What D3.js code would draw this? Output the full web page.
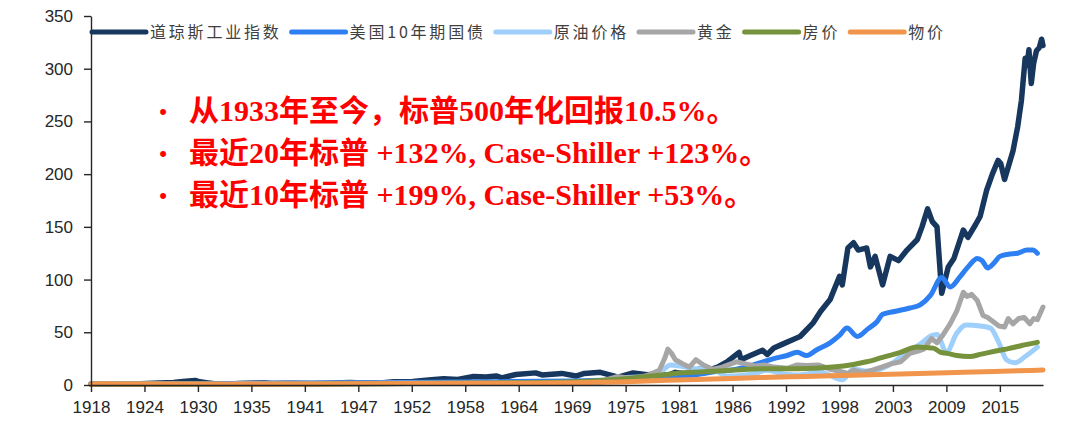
<!DOCTYPE html>
<html>
<head>
<meta charset="utf-8">
<script src="https://cdn.jsdelivr.net/npm/d3@7"></script>
<style>
  body { margin: 0; background: #fff; }
</style>
</head>
<body>
<script>
// ---- data ----
var xTickLabels = ["1918", "1924", "1930", "1935", "1941", "1947", "1952", "1958", "1964",
                   "1969", "1975", "1981", "1986", "1992", "1998", "2003", "2009", "2015"];
var yTicks = [0, 50, 100, 150, 200, 250, 300, 350];

var seriesNames = ["道琼斯工业指数", "美国10年期国债", "原油价格", "黄金", "房价", "物价"];
var seriesColors = ["#17375e", "#2e7ff2", "#9fcffb", "#a6a6a6", "#76923c", "#f0954b"];

var dow = [[1918.7,1.0],[1920.5,0.9],[1922,1.0],[1924,1.2],[1926,1.9],[1927.5,2.3],[1928.5,3.3],
  [1929.8,4.3],[1930.3,3.0],[1931,2.2],[1932.5,0.6],[1934,1.2],[1936,1.9],[1937.2,2.2],[1938,1.5],
  [1940,1.6],[1942.3,1.2],[1944,1.7],[1946.3,2.4],[1947,2.1],[1949.5,2.0],[1951,3.0],[1953,3.3],
  [1955,5.0],[1956.3,6.0],[1957.8,5.2],[1959.5,8.0],[1960.8,7.5],[1961.9,8.6],[1962.5,6.8],[1964,10],
  [1966.1,11.5],[1966.8,9.5],[1968.9,11],[1970.4,8.5],[1971.3,11],[1973,12],[1974.9,7.5],[1976.5,11.5],
  [1978,9.8],[1979,10.5],[1980.3,9.5],[1981,12],[1982.6,10],[1983.5,15],[1984.5,14],[1985.5,17],
  [1986.5,22],[1987.8,31],[1988,24],[1989,28],[1990.3,33],[1990.8,29],[1991.5,35],[1992.5,39],
  [1993.5,43],[1994.3,46],[1995.7,59],[1996.5,70],[1997.5,81],[1998.5,103],[1998.8,95],[1999.4,130],
  [2000,135],[2000.5,128],[2001.4,130],[2001.8,112],[2002.3,122],[2003.1,95],[2003.9,122],[2004.8,118],
  [2005.7,128],[2006.8,138],[2007.3,150],[2007.9,167],[2008.4,155],[2008.9,150],[2009.4,87],[2010.1,112],
  [2010.7,120],[2011.7,147],[2012.2,140],[2013,152],[2013.5,160],[2014.2,185],[2014.8,200],[2015.4,213],
  [2015.7,210],[2016.1,195],[2016.6,210],[2017,222],[2017.5,245],[2017.9,270],[2018.3,310],[2018.5,303],
  [2018.7,318],[2018.95,286],[2019.2,305],[2019.5,317],[2019.8,320],[2020.05,328],[2020.2,322]];

var bond = [[1918.7,0.8],[1930,1.2],[1940,1.8],[1950,2.4],[1960,3.0],[1970,3.8],[1975,5],[1980,6.5],
  [1983,9.5],[1985.5,13],[1987.5,15],[1989,18],[1990,21],[1991.5,25],[1992.9,28],[1994,31],[1995,28],
  [1996,33],[1997.5,40],[1998.5,47],[1999.3,54],[2000.4,46],[2001.5,53],[2002.5,60],[2003.1,67],
  [2004.5,70],[2006,73],[2007.1,76],[2008.2,85],[2009.4,102],[2010.3,93],[2011.3,102],[2012.3,113],
  [2013.2,120],[2013.7,118],[2014.3,111],[2015,116],[2015.6,122],[2016.5,124],[2017.5,125],
  [2018.5,128],[2019.1,128],[2019.6,125]];

var oil = [[1918.7,1.2],[1925,1.0],[1931,0.5],[1940,0.8],[1948,1.5],[1960,1.7],[1970,1.8],[1973,2.3],
  [1974.5,6],[1977,7.5],[1978.5,8],[1979.5,13],[1980.5,19],[1981.5,18],[1983,15.5],[1985,14.5],
  [1986.5,8.5],[1988,9],[1989.5,11],[1990.8,14],[1992,11.5],[1994,9.5],[1996.5,12],[1998.8,5],
  [2000,15],[2001.5,13],[2002.5,14],[2004,20],[2005.5,30],[2007,38],[2008.4,47],[2008.9,48],
  [2009.9,31],[2011,49],[2012,57],[2013.5,56],[2014.6,54],[2015.5,40],[2016.3,24],[2017.2,21],
  [2018.3,27],[2019.6,36]];

var gold = [[1918.7,1.0],[1933.5,1.0],[1934.5,1.7],[1968,1.7],[1971,2.0],[1972.5,3.0],[1973.5,4.5],
  [1974.8,8],[1976.5,6],[1978,9],[1979.3,14],[1979.9,26],[1980.2,34],[1980.6,30],[1981,24],[1981.8,20],
  [1982.5,17],[1983.2,24],[1984,19],[1985,15],[1986,17],[1987.5,22],[1988.5,20],[1989.5,18],[1990.5,19],
  [1991.5,17],[1993,16],[1994,19],[1995,18.5],[1996.3,19],[1997.5,15],[1998.5,13],[1999.4,11],[2000,14],
  [2001,12],[2002,14],[2003,17],[2004,20],[2005,22],[2006,30],[2006.8,32],[2007.5,34],[2008.3,44],
  [2008.9,40],[2009.5,47],[2010.3,58],[2011,70],[2011.7,88],[2012.1,84],[2012.6,86],[2013.2,80],
  [2013.8,66],[2014.3,64],[2014.9,60],[2015.5,56],[2016.1,55],[2016.5,63],[2017,58],[2017.6,63],
  [2018.2,64],[2018.8,58],[2019.2,63],[2019.6,62],[2020.2,74]];

var house = [[1918.7,0.6],[1925,0.7],[1930,0.65],[1933,0.5],[1940,0.6],[1946,1.0],[1950,1.3],[1955,1.6],
  [1960,1.9],[1965,2.2],[1970,3],[1975,5.5],[1978,8],[1981,11],[1984,12.5],[1987,14],[1990.7,15.5],
  [1994,15.5],[1997.8,17],[2000,19.5],[2001.4,22],[2003,26],[2005,31],[2006.8,36],[2007.8,35.5],
  [2008.5,35],[2009.3,31],[2010,30],[2011,28],[2012.4,27],[2013.5,29],[2014.5,31],[2015.6,33],
  [2016.5,34.5],[2017.5,36.5],[2018.5,38.5],[2019.6,40.5]];

var cpi = [[1918.7,0.8],[1920.5,1.1],[1922,0.9],[1930,0.9],[1933,0.7],[1940,0.75],[1945,0.95],[1948,1.3],
  [1955,1.4],[1960,1.55],[1965,1.7],[1970,2.1],[1975,2.9],[1980,4.4],[1985,5.7],[1990,7.0],[1995,8.1],
  [2000,9.2],[2005,10.5],[2010,11.7],[2015,12.8],[2020.2,14.2]];

var annotations = ["从1933年至今，标普500年化回报10.5%。",
                   "最近20年标普 +132%, Case-Shiller +123%。",
                   "最近10年标普 +199%, Case-Shiller +53%。"];

var allSeries = [dow, bond, oil, gold, house, cpi];
var smooth = [false, true, true, false, true, true];

// ---- layout ----
var margin = {top: 16, right: 29, bottom: 49, left: 91},
    width = 1072 - margin.left - margin.right,
    height = 434 - margin.top - margin.bottom;

var svg = d3.select("body").append("svg")
    .attr("width", 1072)
    .attr("height", 434)
  .append("g")
    .attr("transform", "translate(" + margin.left + "," + margin.top + ")");

var x = d3.scaleLinear().domain([1918.7, 2020.2]).range([0, width]);
var y = d3.scaleLinear().domain([0, 350]).range([height, 0]);

var tickStep = 5.7;
var xTickValues = xTickLabels.map(function(d, i) { return 1918.7 + i * tickStep; });

// lines, first series at the bottom
allSeries.forEach(function(data, i) {
  var line = d3.line()
      .x(function(d) { return x(d[0]); })
      .y(function(d) { return y(d[1]); })
      .curve(smooth[i] ? d3.curveMonotoneX : d3.curveLinear);
  svg.append("path")
      .datum(data)
      .attr("fill", "none")
      .attr("stroke", seriesColors[i])
      .attr("stroke-width", i == 0 ? 5.5 : 5)
      .attr("stroke-linejoin", "round")
      .attr("stroke-linecap", "round")
      .attr("d", line);
});

// axes
var gx = svg.append("g")
    .attr("transform", "translate(0," + height + ")")
    .call(d3.axisBottom(x)
      .tickValues(xTickValues)
      .tickFormat(function(d, i) { return xTickLabels[i]; })
      .tickSize(7).tickSizeOuter(0).tickPadding(9));

var gy = svg.append("g")
    .call(d3.axisLeft(y)
      .tickValues(yTicks)
      .tickSize(7).tickSizeOuter(0).tickPadding(11));

[gx, gy].forEach(function(g) {
  g.select(".domain").attr("stroke", "#262626").attr("stroke-width", 1.4);
  g.selectAll(".tick line").attr("stroke", "#262626").attr("stroke-width", 1.4);
  g.selectAll(".tick text")
      .attr("fill", "#262626")
      .attr("font-family", "Liberation Sans, Arial, sans-serif")
      .attr("font-size", 17);
});

// legend
var legend = svg.append("g").attr("transform", "translate(0," + (32 - margin.top) + ")");
var lx = 1;
seriesNames.forEach(function(name, i) {
  legend.append("line")
      .attr("x1", lx).attr("x2", lx + 54)
      .attr("y1", 0).attr("y2", 0)
      .attr("stroke", seriesColors[i])
      .attr("stroke-width", 5)
      .attr("stroke-linecap", "round");
  var t = legend.append("text")
      .attr("x", lx + 58)
      .attr("y", 0)
      .attr("dy", "0.36em")
      .attr("font-family", "Noto Sans CJK SC")
      .attr("font-size", 16)
      .attr("letter-spacing", "2.8px")
      .attr("fill", "#404040")
      .text(name);
  lx = lx + 58 + t.node().getComputedTextLength() + 10;
});

// red annotation
var note = svg.append("g");
annotations.forEach(function(s, i) {
  var yy = 121 + i * 42 - margin.top;
  note.append("text")
      .attr("x", 163 - margin.left)
      .attr("y", yy - 2)
      .attr("text-anchor", "middle")
      .attr("font-family", "Liberation Sans")
      .attr("font-size", 22)
      .attr("fill", "#ff0000")
      .text("•");
  note.append("text")
      .attr("x", 189 - margin.left)
      .attr("y", yy)
      .attr("font-family", "Liberation Serif, Noto Sans CJK SC")
      .attr("font-weight", "bold")
      .attr("font-size", 30)
      .attr("fill", "#ff0000")
      .text(s);
});
</script>
</body>
</html>
